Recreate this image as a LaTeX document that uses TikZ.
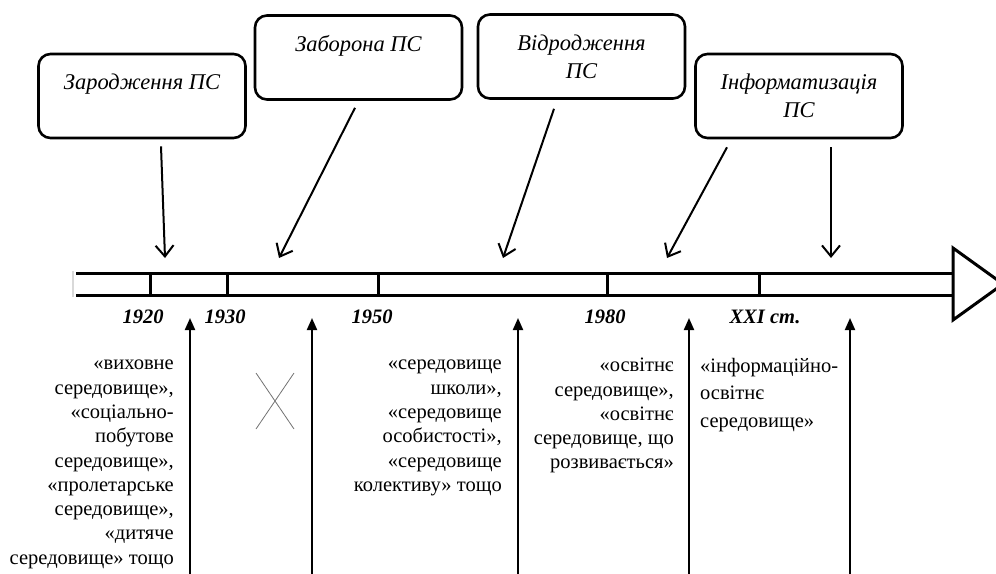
\documentclass[tikz,border=0pt]{standalone}
\usepackage{fontspec}
\setmainfont{Liberation Serif}
\usetikzlibrary{arrows.meta,positioning}

\begin{document}
\begin{tikzpicture}[x=1pt, y=-1pt,
    stage/.style={draw, line width=2.6pt, rounded corners=12pt, minimum width=207pt,
      minimum height=84pt, align=center, font=\fontsize{22.5}{28}\selectfont\itshape},
    axis/.style={line width=3pt},
    year/.style={font=\fontsize{20.5}{24}\selectfont\bfseries\itshape, inner sep=0pt},
    term/.style={font=\fontsize{20.5}{24.3}\selectfont, inner sep=0pt},
    down/.style={line width=2pt, -{Straight Barb[length=11pt,width=18pt,line width=2pt]}},
    up/.style={line width=2pt, -{Triangle[length=12pt,width=10pt]}}
  ]
  \useasboundingbox (0,0) rectangle (996,573);

  % stages
  \node[stage] (born)   at (142,96)   {Зародження ПС\\ \mbox{}};
  \node[stage] (ban)    at (358.5,57.5) {Заборона ПС\\ \mbox{}};
  \node[stage] (revive) at (581.5,56.5) {Відродження\\ПС};
  \node[stage] (inform) at (799,96)   {Інформатизація\\ПС};

  % time axis
  \draw[black!15, line width=2pt] (73,271) -- (73,297);
  \draw[axis] (76,273) -- (953,273);
  \draw[axis] (76,295) -- (953,295);
  \draw[axis, fill=white, line join=miter] (953,248) -- (1003,284) -- (953,320) -- cycle;
  \foreach \x/\lx/\yr in {150/143/1920, 227/225/1930, 378/372/1950, 607/605/1980, 759/765/{XXI ст.}}{
    \draw[axis] (\x,273) -- (\x,295);
    \node[year] (y\x) at (\lx,317) {\yr};
  }

  % arrows from the stages
  \coordinate (p1) at (165,258);
  \coordinate (p2) at (279,258);
  \coordinate (p3) at (503,258);
  \coordinate (p4) at (667,258);
  \coordinate (p5) at (831,258);
  \draw[down] ([xshift=19pt,yshift=-7pt]born.south) -- (p1);
  \draw[down] ([xshift=-3.5pt,yshift=-7pt]ban.south) -- (p2);
  \draw[down] ([xshift=-27.5pt,yshift=-9pt]revive.south) -- (p3);
  \draw[down] ([xshift=-72pt,yshift=-8pt]inform.south) -- (p4);
  \draw[down] ([xshift=32pt,yshift=-8pt]inform.south) -- (p5);

  % arrows up to the axis
  \foreach \x in {190,312,518,689,850}{
    \coordinate (b\x) at (\x,576);
    \coordinate (u\x) at (\x,318);
    \draw[up] (b\x) -- (u\x);
  }

  % terms
  \node[term, align=right, anchor=north east] (t1) at (174,360)
    {«виховне\\середовище»,\\«соціально-\\побутове\\середовище»,\\«пролетарське\\середовище»,\\«дитяче\\середовище» тощо};
  \draw[black!55, line width=0.8pt] (256,373) -- (294,429) (294,373) -- (256,429);
  \node[term, align=right, anchor=north east] (t2) at (502,360)
    {«середовище\\школи»,\\«середовище\\особистості»,\\«середовище\\колективу» тощо};
  \node[term, align=right, anchor=north east] (t3) at (674,358)
    {«освітнє\\середовище»,\\«освітнє\\середовище, що\\розвивається»};
  \node[term, align=left, anchor=north west, font=\fontsize{20.5}{27.5}\selectfont] (t4) at (700,358)
    {«інформаційно-\\освітнє\\середовище»};
\end{tikzpicture}
\end{document}
